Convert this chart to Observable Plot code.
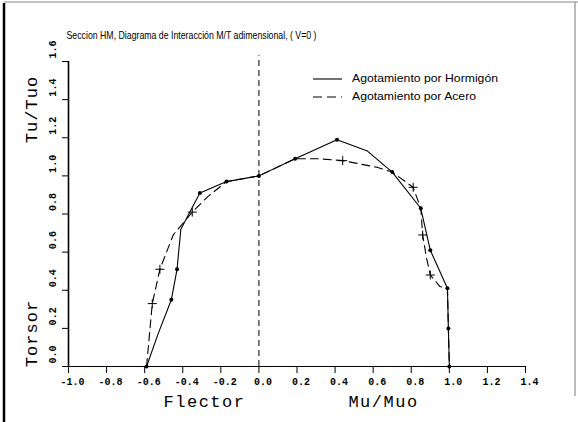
<!DOCTYPE html>
<html><head><meta charset="utf-8">
<script src="https://cdn.jsdelivr.net/npm/d3@7"></script>
<script src="https://cdn.jsdelivr.net/npm/@observablehq/plot@0.6"></script>
<style>
body{margin:0;background:#fff;}
#chart{position:relative;width:578px;height:422px;overflow:hidden;background:#fff;}
</style></head><body><div id="chart"></div>
<script>
// ---- data ----
const titleText = "Seccion HM, Diagrama de Interacción M/T adimensional, ( V=0 )";
const legendLabels = ["Agotamiento por Hormigón", "Agotamiento por Acero"];
const xTitleLeft = "Flector", xTitleRight = "Mu/Muo";
const yTitleBottom = "Torsor", yTitleTop = "Tu/Tuo";
const xTicks = [-1.0, -0.8, -0.6, -0.4, -0.2, 0.0, 0.2, 0.4, 0.6, 0.8, 1.0, 1.2, 1.4];
const yTicks = [0.0, 0.2, 0.4, 0.6, 0.8, 1.0, 1.2, 1.4, 1.6];

const hormigonM    = [-0.59, -0.53, -0.46, -0.43, -0.41, -0.31, -0.17, 0.00, 0.19, 0.41, 0.57, 0.70, 0.85, 0.90, 0.99, 0.995, 1.00];
const hormigonT    = [ 0.00,  0.17,  0.35,  0.51,  0.72,  0.91,  0.97, 1.00, 1.09, 1.19, 1.13, 1.02, 0.83, 0.61, 0.41, 0.20,  0.00];
const hormigonMark = [ 1,     0,     1,     1,     0,     1,     1,    1,    1,    1,    0,    1,    1,    1,    1,    1,     1];

const aceroM    = [-0.59, -0.58, -0.56, -0.52, -0.45, -0.35, -0.27, -0.17, 0.00, 0.19, 0.31, 0.44, 0.62, 0.70, 0.81, 0.85, 0.86, 0.88, 0.90, 0.95, 0.99, 0.995, 1.00];
const aceroT    = [ 0.00,  0.11,  0.33,  0.51,  0.69,  0.81,  0.89,  0.97, 1.00, 1.09, 1.09, 1.08, 1.045,1.02, 0.94, 0.83, 0.69, 0.57, 0.48, 0.42, 0.41, 0.20,  0.00];
const aceroMark = [ 0,     0,     1,     1,     0,     1,     0,     0,    0,    0,    0,    1,    0,    0,    1,    0,    1,    0,    1,    0,    0,    0,     0];

// ---- build ----
const hormigon = hormigonM.map((m, i) => ({m, t: hormigonT[i], mark: hormigonMark[i]}));
const acero = aceroM.map((m, i) => ({m, t: aceroT[i], mark: aceroMark[i]}));
const fmt = d => d.toFixed(1);
const mono = "Liberation Mono, DejaVu Sans Mono, monospace";

const svg = Plot.plot({
  width: 578, height: 422,
  marginLeft: 68, marginRight: 53, marginTop: 61, marginBottom: 56,
  x: {domain: [-1.0, 1.4]},
  y: {domain: [0, 1.6]},
  style: {fontFamily: mono, background: "white", color: "black", overflow: "visible"},
  marks: [
    Plot.ruleY([0], {stroke: "black", strokeWidth: 1.2}),
    Plot.ruleX([-1.0], {stroke: "black", strokeWidth: 1.6}),
    Plot.ruleX([0], {y1: 0, y2: 1.63, stroke: "black", strokeWidth: 1, strokeDasharray: "6,4"}),
    Plot.axisX({ticks: xTicks, tickSize: 7, tickFormat: () => "", label: null}),
    Plot.axisY({ticks: yTicks, tickSize: 6, tickFormat: () => "", label: null}),
    Plot.text(xTicks, {x: d => d, y: () => 0, text: fmt, dy: 15, dx: 4, fontSize: 10, fontFamily: mono, fontWeight: "bold"}),
    Plot.text(yTicks, {x: () => -1.0, y: d => d, text: fmt, rotate: -90, textAnchor: "middle", lineAnchor: "middle", dx: -16, dy: -12, fontSize: 10, fontFamily: mono, fontWeight: "bold"}),
    Plot.line(hormigon, {x: "m", y: "t", stroke: "black", strokeWidth: 1.1}),
    Plot.line(acero, {x: "m", y: "t", stroke: "black", strokeWidth: 1.1, strokeDasharray: "8,5"}),
    Plot.dot(hormigon.filter(d => d.mark), {x: "m", y: "t", r: 2, fill: "black"}),
    Plot.dot(acero.filter(d => d.mark), {x: "m", y: "t", r: 3, symbol: "plus", stroke: "black", strokeWidth: 1}),
    Plot.text([titleText], {frameAnchor: "top-left", dx: -2, dy: -26, textAnchor: "start", lineAnchor: "middle", fontSize: 11, fontFamily: "Liberation Sans Narrow, Liberation Sans, sans-serif"}),
    Plot.text([xTitleLeft], {frameAnchor: "bottom-left", dx: 136, dy: 35, textAnchor: "middle", lineAnchor: "middle", fontSize: 17, fontFamily: mono}),
    Plot.text([xTitleRight], {frameAnchor: "bottom-left", dx: 315, dy: 35, textAnchor: "middle", lineAnchor: "middle", fontSize: 17, fontFamily: mono}),
    Plot.text([yTitleBottom], {frameAnchor: "bottom-left", dx: -37, dy: -33, rotate: -90, textAnchor: "middle", lineAnchor: "middle", fontSize: 17, fontFamily: mono}),
    Plot.text([yTitleTop], {frameAnchor: "top-left", dx: -37, dy: 48, rotate: -90, textAnchor: "middle", lineAnchor: "middle", fontSize: 17, fontFamily: mono})
  ]
});

const s = d3.select(svg);
s.selectAll("text").each(function() {
  const t = this.textContent;
  if (t === titleText) { this.setAttribute("textLength", 250); this.setAttribute("lengthAdjust", "spacingAndGlyphs"); }
  if (t === xTitleLeft || t === xTitleRight) this.style.letterSpacing = "1.5px";
  if (t === yTitleBottom || t === yTitleTop) this.style.letterSpacing = "1px";
});

// legend
const lg = s.append("g").attr("font-family", "Liberation Sans, sans-serif").attr("font-size", 10.5).attr("text-anchor", "start");
const rows = [{y: 79, dash: null, w: 146}, {y: 97, dash: "9,5", w: 124}];
rows.forEach((r, i) => {
  lg.append("line").attr("x1", 313).attr("x2", 342).attr("y1", r.y).attr("y2", r.y)
    .attr("stroke", "black").attr("stroke-width", 1.1).attr("stroke-dasharray", r.dash);
  lg.append("text").attr("x", 352).attr("y", r.y).attr("dy", "0.32em").attr("text-anchor", "start")
    .attr("textLength", r.w).attr("lengthAdjust", "spacingAndGlyphs").text(legendLabels[i]);
});

// page border (scan frame)
s.append("line").attr("x1", 4).attr("x2", 4).attr("y1", 3).attr("y2", 422).attr("stroke", "black").attr("stroke-width", 2.5);
s.append("line").attr("x1", 4).attr("x2", 578).attr("y1", 2).attr("y2", 2).attr("stroke", "#888").attr("stroke-width", 1);
s.append("line").attr("x1", 575).attr("x2", 575).attr("y1", 2).attr("y2", 396).attr("stroke", "#777").attr("stroke-width", 1);

document.getElementById("chart").appendChild(svg);
</script>
</body></html>
